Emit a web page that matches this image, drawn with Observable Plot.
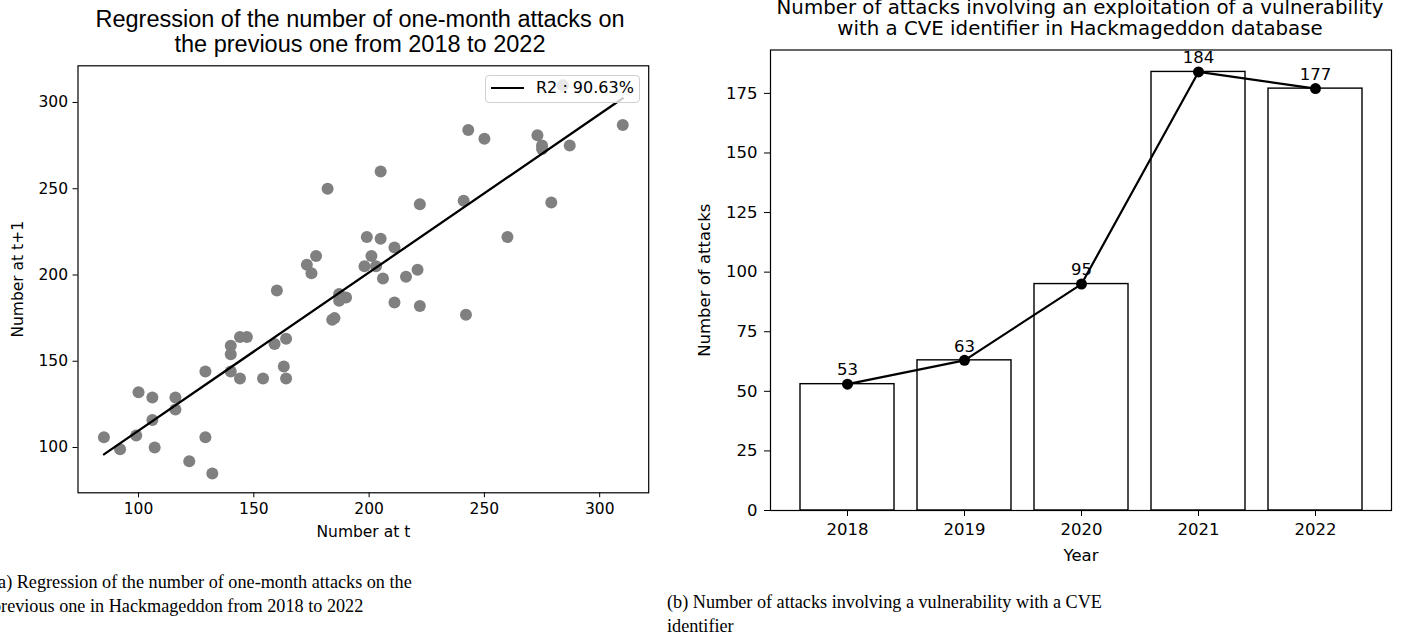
<!DOCTYPE html>
<html>
<head>
<meta charset="utf-8">
<script src="https://cdn.jsdelivr.net/npm/d3@7"></script>
<script src="https://cdn.jsdelivr.net/npm/@observablehq/plot@0.6"></script>
<style>
  html, body { margin: 0; padding: 0; background: #fff; }
  body { width: 1401px; height: 641px; overflow: hidden; position: relative; }
  .abs { position: absolute; white-space: nowrap; color: #000; }
  .title-l { font-family: "Liberation Sans", Arial, sans-serif; font-size: 23.5px; line-height: 25px; text-align: center; }
  .title-r { font-family: "DejaVu Sans", sans-serif; font-size: 19.8px; line-height: 20.5px; text-align: center; }
  .cap { font-family: "Liberation Serif", "Times New Roman", serif; font-size: 18.2px; line-height: 24px; }
  .legend { background: rgba(255,255,255,0.8); border: 1px solid #d0d0d0; border-radius: 4px; box-sizing: border-box;
            font-family: "DejaVu Sans", sans-serif; font-size: 16px; }
  svg { position: absolute; }
</style>
</head>
<body>
<script>
// ---- Left chart data: number of attacks in a month (t) vs the next month (t+1)
const numberAtT = [85, 92, 99, 107, 106, 100, 106, 116, 116, 122, 129, 132, 129, 140, 140, 140, 144, 147, 144, 154,
  159, 164, 163, 164, 160, 173, 175, 177, 184, 185, 187, 187, 190, 198, 203, 206, 216, 221, 211, 222,
  242, 284, 310, 243, 250, 273, 275, 275, 287, 205, 222, 241, 279, 199, 205, 211, 201, 260, 182];
const numberAtT1 = [106, 99, 107, 100, 116, 132, 129, 129, 122, 92, 106, 85, 144, 159, 154, 144, 164, 164, 140, 140,
  160, 163, 147, 140, 191, 206, 201, 211, 174, 175, 189, 185, 187, 205, 205, 198, 199, 203, 184, 182,
  177, 310, 287, 284, 279, 281, 275, 273, 275, 260, 241, 243, 242, 222, 221, 216, 211, 222, 250];
const regTicks = [100, 150, 200, 250, 300];
const legendText = "R2 : 90.63%";

// ---- Right chart data: attacks with a CVE identifier per year
const years = ["2018", "2019", "2020", "2021", "2022"];
const cveAttacks = [53, 63, 95, 184, 177];
const countTicks = [0, 25, 50, 75, 100, 125, 150, 175];

const pairs = numberAtT.map((t, i) => ({t, t1: numberAtT1[i]}));
const yearly = years.map((year, i) => ({year, count: cveAttacks[i]}));

const left = Plot.plot({
  width: 700, height: 560,
  marginLeft: 77.5, marginRight: 51.8, marginTop: 65.3, marginBottom: 67.7,
  style: {fontFamily: "DejaVu Sans", fontSize: "15.5px", color: "#000", background: "transparent", overflow: "visible"},
  x: {domain: [73.75, 321.25], ticks: regTicks, tickSize: 5, tickPadding: 5,
      label: "Number at t", labelAnchor: "center", labelArrow: "none", labelOffset: 44},
  y: {domain: [73.75, 321.25], ticks: regTicks, tickSize: 5, tickPadding: 5,
      label: "Number at t+1", labelAnchor: "center", labelArrow: "none", labelOffset: 66},
  marks: [
    Plot.dot(pairs, {x: "t", y: "t1", r: 6, fill: "#808080", stroke: "none"}),
    Plot.linearRegressionY(pairs, {x: "t", y: "t1", stroke: "black", strokeWidth: 2.3, ci: 0}),
    Plot.frame({stroke: "black", strokeWidth: 1.2})
  ]
});
left.style.left = "0px"; left.style.top = "0px";
document.body.appendChild(left);

const right = Plot.plot({
  width: 711, height: 570,
  marginLeft: 80, marginRight: 10, marginTop: 49.5, marginBottom: 60,
  style: {fontFamily: "DejaVu Sans", fontSize: "16.5px", color: "#000", background: "transparent", overflow: "visible"},
  x: {type: "band", domain: years, paddingInner: 0.2, paddingOuter: 0.24, tickSize: 6, tickPadding: 7,
      label: "Year", labelAnchor: "center", labelArrow: "none", labelOffset: 50},
  y: {domain: [0, 193.2], ticks: countTicks, tickSize: 6, tickPadding: 7,
      label: "Number of attacks", labelAnchor: "center", labelArrow: "none", labelOffset: 72},
  marks: [
    Plot.barY(yearly, {x: "year", y: "count", fill: "white", stroke: "black", strokeWidth: 1.4}),
    Plot.line(yearly, {x: "year", y: "count", stroke: "black", strokeWidth: 2.2}),
    Plot.dot(yearly, {x: "year", y: "count", r: 5.5, fill: "black", stroke: "none"}),
    Plot.text(yearly, {x: "year", y: "count", text: d => String(d.count), dy: -14, fontSize: 16.5, fill: "black"}),
    Plot.frame({stroke: "black", strokeWidth: 1.2})
  ]
});
right.style.left = "690px"; right.style.top = "0px";
document.body.appendChild(right);

function addDiv(cls, css, html) {
  const d = document.createElement("div");
  d.className = "abs " + cls;
  Object.assign(d.style, css);
  d.innerHTML = html;
  document.body.appendChild(d);
  return d;
}

addDiv("title-l", {left: "0px", width: "720px", top: "7px"},
  "Regression of the number of one-month attacks on<br>the previous one from 2018 to 2022");
addDiv("title-r", {left: "760px", width: "640px", top: "-2px"},
  "Number of attacks involving an exploitation of a vulnerability<br>with a CVE identifier in Hackmageddon database");

const lg = addDiv("legend", {left: "485px", top: "75px", width: "155px", height: "28px"}, "");
lg.innerHTML = '<svg width="155" height="28" style="position:absolute;left:0;top:0"><line x1="5" x2="38" y1="12" y2="12" stroke="black" stroke-width="2"/></svg>' +
  '<span style="position:absolute;left:50px;top:2px;">' + legendText + '</span>';

addDiv("cap", {left: "-8px", top: "570px"},
  "(a) Regression of the number of one-month attacks on the<br>previous one in Hackmageddon from 2018 to 2022");
addDiv("cap", {left: "667px", top: "590px"},
  "(b) Number of attacks involving a vulnerability with a CVE<br>identifier");
</script>
</body>
</html>
